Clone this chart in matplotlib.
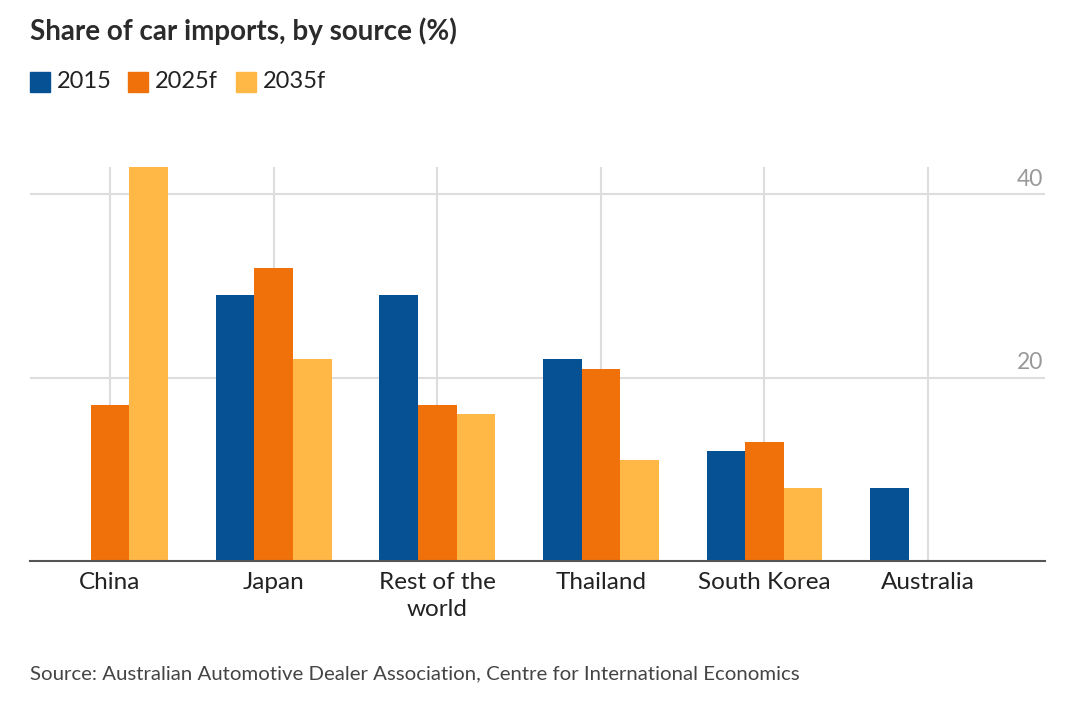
import numpy as np
import matplotlib.pyplot as plt
from matplotlib.patches import Rectangle
from matplotlib.transforms import blended_transform_factory

# Data
categories = ["China", "Japan", "Rest of the\nworld", "Thailand", "South Korea", "Australia"]
series_names = ["2015", "2025f", "2035f"]
share_2015 = [0, 29, 29, 22, 12, 8]
share_2025f = [17, 32, 17, 21, 13, 0]
share_2035f = [43, 22, 16, 11, 8, 0]
y_ticks = [20, 40]

colors = ["#065194", "#f0710a", "#ffb845"]
plt.rcParams['font.family'] = ['Lato', 'DejaVu Sans']

W, H = 1080, 703
fig = plt.figure(figsize=(W / 100, H / 100), dpi=100)
ax = fig.add_axes([30 / W, 142 / H, 1015 / W, 394 / H])

x = np.arange(len(categories))
w = 0.236
series = [share_2015, share_2025f, share_2035f]
for i, vals in enumerate(series):
    ax.bar(x + (i - 1) * w, vals, width=w, color=colors[i], label=series_names[i], zorder=3)

ax.set_xlim(-0.489, 5.715)
ax.set_ylim(0, 43)

# Gridlines
ax.set_xticks(x)
ax.set_xticklabels(categories, fontsize=17.5, color="#222222", linespacing=1.35)
ax.tick_params(axis="x", length=0, pad=8)
ax.set_yticks(y_ticks)
ax.set_yticklabels([])
ax.tick_params(axis="y", length=0)
ax.grid(True, color="#dddddd", linewidth=1.5, zorder=0)

for s in ["top", "right", "left"]:
    ax.spines[s].set_visible(False)
ax.spines["bottom"].set_color("#555555")
ax.spines["bottom"].set_linewidth(1.5)
ax.spines["bottom"].set_zorder(4)

# Right-side y labels above the gridlines
trans = blended_transform_factory(ax.transAxes, ax.transData)
for t in y_ticks:
    ax.text(0.998, t + 0.5, str(t), transform=trans, ha="right", va="bottom",
            fontsize=16.5, color="#999999")

# Title
fig.text(30 / W, 1 - 31 / H, "Share of car imports, by source (%)", fontsize=20,
         fontweight="bold", color="#2b2b2b", ha="left", va="center")

# Legend
leg_x = [30, 128, 236]
for i, name in enumerate(series_names):
    fig.patches.append(Rectangle((leg_x[i] / W, 1 - 92 / H), 20 / W, 20 / H,
                                 transform=fig.transFigure, color=colors[i]))
    fig.text((leg_x[i] + 27) / W, 1 - 82 / H, name, fontsize=17, color="#222222",
             ha="left", va="center")

# Source
fig.text(30 / W, 1 - 674 / H,
         "Source: Australian Automotive Dealer Association, Centre for International Economics",
         fontsize=14.7, color="#444444", ha="left", va="center")

fig.savefig("out.png", dpi=100)
